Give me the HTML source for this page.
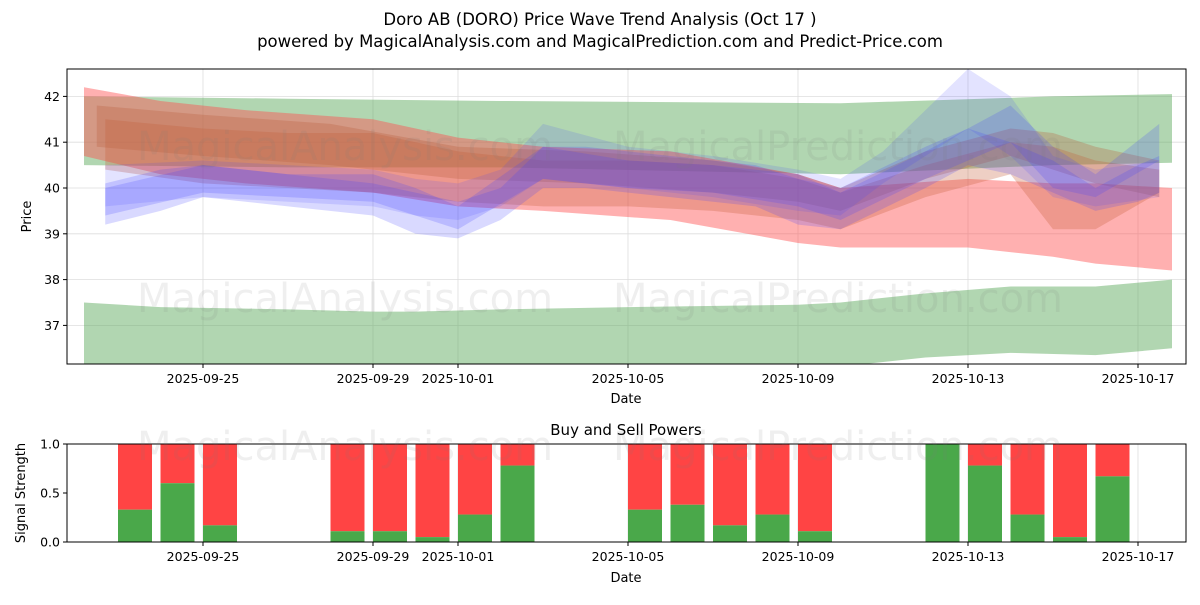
<!DOCTYPE html>
<html><head><meta charset="utf-8"><style>
body{margin:0;background:#fff;font-family:"Liberation Sans","DejaVu Sans",sans-serif;}
svg text{font-family:"DejaVu Sans","Liberation Sans",sans-serif;}
</style></head><body>
<svg id="c" width="1200" height="600" xmlns="http://www.w3.org/2000/svg">
<text x="600" y="25" font-size="16.5" text-anchor="middle">Doro AB (DORO) Price Wave Trend Analysis (Oct 17 )</text>
<text x="600" y="47" font-size="16.5" text-anchor="middle">powered by MagicalAnalysis.com and MagicalPrediction.com and Predict-Price.com</text>
<g id="topPanel"></g>
<g id="botPanel"></g>
</svg>
<script>
// ---- data ----
const tickDays=[0,4,6,10,14,18,22];
const tickLabels=["2025-09-25","2025-09-29","2025-10-01","2025-10-05","2025-10-09","2025-10-13","2025-10-17"];
const priceTicks=[37,38,39,40,41,42];
const greenTopDays=[-2.8,2,7,15,20,22.8];
const greenTopUp=[42.0,41.95,41.9,41.85,42.0,42.05];
const greenTopLo=[40.5,40.45,40.45,40.3,40.5,40.55];
const greenBotDays=[-2.8,-1,2,4,5,7,10,14,15,17,19,21,22.8];
const greenBotUp=[37.5,37.4,37.35,37.3,37.3,37.35,37.4,37.45,37.5,37.7,37.85,37.85,38.0];
const greenBotLo=[36.1,36.1,36.1,36.1,36.1,36.1,36.1,36.1,36.1,36.3,36.4,36.35,36.5];
const redDays=[-2.8,-1,1,4,6,8,11,14,15,18,20,21,22.8];
const redUp=[42.2,41.9,41.7,41.5,41.1,40.9,40.8,40.3,40.0,40.2,40.1,40.1,40.0];
const redLo=[40.7,40.3,40.1,39.9,39.6,39.5,39.3,38.8,38.7,38.7,38.5,38.35,38.2];
const red2Days=[-2.3,0,2,4,6,8,10,12,14,15,17,19,20,21,22.5];
const red2Up=[41.5,41.3,41.2,41.2,40.8,40.6,40.6,40.5,40.2,39.9,40.5,41.0,40.9,40.6,40.4];
const red2Lo=[40.4,40.1,40.0,39.9,39.7,39.6,39.6,39.5,39.3,39.1,39.8,40.3,39.1,39.1,39.9];
const red3Days=[-2.5,0,3,6,9,12,14,15,17,19,20,21,22.5];
const red3Up=[41.8,41.6,41.4,40.9,40.8,40.6,40.3,40.0,40.8,41.3,41.2,40.9,40.6];
const red3Lo=[40.9,40.7,40.5,40.2,40.1,39.9,39.7,39.5,40.2,40.7,40.4,40.1,39.8];
const blue1Days=[-2.3,-1,0,2,4,5,6,7,8,9,11,13,14,15,17,18,19,20,21,22,22.5];
const blue1Up=[40.1,40.4,40.5,40.3,40.1,39.9,39.7,40.0,40.9,40.9,40.7,40.5,40.2,40.0,40.9,41.3,41.0,40.6,40.0,40.5,40.7];
const blue1Lo=[39.2,39.5,39.8,39.6,39.4,39.0,38.9,39.3,40.0,40.0,39.8,39.6,39.2,39.1,40.0,40.5,40.3,39.9,39.5,39.7,39.9];
const blue2Days=[-2.3,0,2,4,5,6,7,8,10,12,14,15,16,18,19,20,21,22.5];
const blue2Up=[40.5,40.6,40.5,40.4,40.2,40.1,40.4,41.4,40.9,40.7,40.4,40.2,40.8,42.6,42.0,40.7,40.4,40.6];
const blue2Lo=[39.6,39.8,39.7,39.6,39.4,39.3,39.6,40.2,40.0,39.8,39.5,39.4,40.1,41.3,40.7,39.8,39.6,39.8];
const blue3Days=[-2.3,0,2,4,5,6,8,10,12,14,15,17,19,20,21,22.5];
const blue3Up=[40.0,40.5,40.3,40.3,40.0,39.6,40.9,40.6,40.5,40.3,39.9,40.8,41.8,40.9,40.3,41.4];
const blue3Lo=[39.4,39.9,39.8,39.7,39.4,39.1,40.2,40.0,39.9,39.6,39.3,40.2,41.0,40.0,39.8,40.6];
const barDays=[-1,0,1,4,5,6,7,8,11,12,13,14,15,18,19,20,21,22];
const buyPower=[0.33,0.6,0.17,0.11,0.11,0.05,0.28,0.78,0.33,0.38,0.17,0.28,0.11,1.0,0.78,0.28,0.05,0.67];

const NS="http://www.w3.org/2000/svg";
const L=67,R=1186,T=69,B=364,BT=444,BB=542;
const x=d=>203+42.5*d;
const y=v=>188-(v-40)*45.8;
const yb=v=>BB-(BB-BT)*v;
const barOffset=-0.6;
function mk(parent,tag,attrs){const e=document.createElementNS(NS,tag);for(const k in attrs)e.setAttribute(k,attrs[k]);parent.appendChild(e);return e;}
const svgRoot=document.getElementById('c');
const topG=document.getElementById('topPanel'),botG=document.getElementById('botPanel');
const defs=mk(svgRoot,'defs',{});
const cp=mk(defs,'clipPath',{id:'cp'});mk(cp,'rect',{x:L,y:T,width:R-L,height:B-T});

for(const d of tickDays){
 let g=mk(topG,'line',{x1:x(d),x2:x(d),y1:T,y2:B,stroke:'#ddd','stroke-width':0.8});
 
 
 let g2=mk(botG,'line',{x1:x(d),x2:x(d),y1:BT,y2:BB,stroke:'#ddd','stroke-width':0.8});
 
 
}
priceTicks.forEach(v=>{
 let g=mk(topG,'line',{x1:L,x2:R,y1:y(v),y2:y(v),stroke:'#ddd','stroke-width':0.8});
 
 
});
[[345,160,'MagicalAnalysis.com'],[838,160,'MagicalPrediction.com'],[345,312,'MagicalAnalysis.com'],[838,312,'MagicalPrediction.com'],[345,460,'MagicalAnalysis.com'],[838,460,'MagicalPrediction.com']].forEach(w=>{
 let t=mk(svgRoot,'text',{x:w[0],y:w[1],'font-size':40,'text-anchor':'middle',fill:'rgba(120,120,120,0.12)'});t.textContent=w[2];
 
 
});
const bandG=mk(topG,'g',{'clip-path':'url(#cp)'});
function band(days,up,lo,color,op,name){
 let pts=days.map((d,i)=>x(d)+','+y(up[i]));
 for(let i=days.length-1;i>=0;i--)pts.push(x(days[i])+','+y(lo[i]));
 let p=mk(bandG,'polygon',{points:pts.join(' '),fill:color,'fill-opacity':op});
 
 
}
band(greenTopDays,greenTopUp,greenTopLo,'#5aa85a',0.47,'green-band-upper');
band(greenBotDays,greenBotUp,greenBotLo,'#5aa85a',0.47,'green-band-lower');
band(redDays,redUp,redLo,'#ff5050',0.45,'red-band');
band(red2Days,red2Up,red2Lo,'#c8603a',0.3,'red-band-2');
band(red3Days,red3Up,red3Lo,'#b86040',0.3,'red-band-3');
band(blue1Days,blue1Up,blue1Lo,'#4040ff',0.2,'blue-band-1');
band(blue2Days,blue2Up,blue2Lo,'#4040ff',0.15,'blue-band-2');
band(blue3Days,blue3Up,blue3Lo,'#4040ff',0.2,'blue-band-3');

let fr=mk(topG,'rect',{x:L,y:T,width:R-L,height:B-T,fill:'none',stroke:'#000','stroke-width':1});


priceTicks.forEach(v=>{
 mk(topG,'line',{x1:L-4,x2:L,y1:y(v),y2:y(v),stroke:'#000'});
 let t=mk(topG,'text',{x:L-7,y:y(v)+4.5,'font-size':12.5,'text-anchor':'end'});t.textContent=v;
 
 
});
tickDays.forEach((d,i)=>{
 mk(topG,'line',{x1:x(d),x2:x(d),y1:B,y2:B+4,stroke:'#000'});
 let t=mk(topG,'text',{x:x(d),y:B+19,'font-size':12.5,'text-anchor':'middle'});t.textContent=tickLabels[i];
 
 
 mk(botG,'line',{x1:x(d),x2:x(d),y1:BB,y2:BB+4,stroke:'#000'});
 let t2=mk(botG,'text',{x:x(d),y:BB+19,'font-size':12.5,'text-anchor':'middle'});t2.textContent=tickLabels[i];
 
 
});
let yl=mk(topG,'text',{x:31,y:(T+B)/2,'font-size':13,'text-anchor':'middle',transform:`rotate(-90 31 ${(T+B)/2})`});yl.textContent='Price';


let xl=mk(topG,'text',{x:626,y:403,'font-size':13,'text-anchor':'middle'});xl.textContent='Date';



let bt=mk(botG,'text',{x:626,y:435,'font-size':15,'text-anchor':'middle'});bt.textContent='Buy and Sell Powers';


barDays.forEach((d,i)=>{
 const w=34,g=buyPower[i],cx=x(d+barOffset);
 let r=mk(botG,'rect',{x:cx-w/2,y:yb(1),width:w,height:yb(g)-yb(1),fill:'#ff4444'});
 
 
 let gr=mk(botG,'rect',{x:cx-w/2,y:yb(g),width:w,height:yb(0)-yb(g),fill:'#4aa84a'});
 
 
});
let bf=mk(botG,'rect',{x:L,y:BT,width:R-L,height:BB-BT,fill:'none',stroke:'#000'});


[0,0.5,1].forEach(v=>{
 mk(botG,'line',{x1:L-4,x2:L,y1:yb(v),y2:yb(v),stroke:'#000'});
 let t=mk(botG,'text',{x:L-7,y:yb(v)+4.5,'font-size':12.5,'text-anchor':'end'});t.textContent=v.toFixed(1);
 
 
});
let yl2=mk(botG,'text',{x:25,y:493,'font-size':13,'text-anchor':'middle',transform:'rotate(-90 25 493)'});yl2.textContent='Signal Strength';


let xl2=mk(botG,'text',{x:626,y:582,'font-size':13,'text-anchor':'middle'});xl2.textContent='Date';


</script>
</body></html>
